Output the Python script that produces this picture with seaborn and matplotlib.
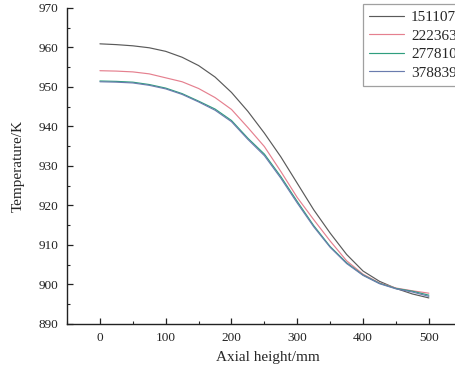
import numpy as np
import pandas as pd
import matplotlib
matplotlib.use("Agg")
import matplotlib.pyplot as plt
import seaborn as sns
from matplotlib.ticker import MultipleLocator

# axial height (mm)
height = [0, 25, 50, 75, 100, 125, 150, 175, 200, 225, 250,
          275, 300, 325, 350, 375, 400, 425, 450, 475, 500]

# temperatures (K) per Reynolds number
t_151107 = [960.9, 960.7, 960.4, 959.9, 959.0, 957.5, 955.4, 952.5, 948.6, 943.8, 938.3,
            932.3, 925.6, 918.9, 913.0, 907.6, 903.4, 900.8, 899.0, 897.6, 896.6]
t_222363 = [954.1, 954.0, 953.8, 953.3, 952.3, 951.3, 949.6, 947.3, 944.3, 939.7, 934.9,
            928.6, 922.0, 916.4, 911.0, 906.0, 902.6, 900.4, 899.1, 898.4, 897.8]
t_277810 = [951.5, 951.4, 951.2, 950.6, 949.7, 948.3, 946.4, 944.4, 941.5, 937.0, 933.0,
            927.3, 921.0, 914.9, 909.6, 905.5, 902.4, 900.3, 899.0, 898.3, 897.3]
t_378839 = [951.3, 951.2, 951.0, 950.4, 949.5, 948.1, 946.2, 944.1, 941.2, 936.7, 932.6,
            926.9, 920.6, 914.6, 909.4, 905.3, 902.3, 900.2, 898.9, 898.1, 897.0]

labels = ["151107", "222363", "277810", "378839"]
colors = ["#5a5a5a", "#e5808f", "#2f9e7e", "#6a7cae"]

df = pd.concat([
    pd.DataFrame({"h": height, "T": t, "Re": lab})
    for t, lab in zip([t_151107, t_222363, t_277810, t_378839], labels)
])

sns.set_style("ticks")
plt.rcParams["font.family"] = ["Liberation Serif", "DejaVu Serif"]

fig = plt.figure(figsize=(4.56, 3.75), dpi=100)
ax = fig.add_axes([0.147, 0.136, 0.88, 0.843])

sns.lineplot(data=df, x="h", y="T", hue="Re", palette=colors,
             linewidth=0.85, ax=ax, sort=False)

ax.set_xlim(-50, 560)
ax.set_ylim(890, 970)
ax.xaxis.set_major_locator(MultipleLocator(100))
ax.xaxis.set_minor_locator(MultipleLocator(50))
ax.yaxis.set_major_locator(MultipleLocator(10))
ax.yaxis.set_minor_locator(MultipleLocator(5))
ax.tick_params(which="major", direction="in", length=4, width=0.9,
               labelsize=9.5, colors="#222222", pad=6)
ax.tick_params(which="minor", direction="in", length=2.5, width=0.8)
for s in ["top", "right"]:
    ax.spines[s].set_visible(False)
for s in ["left", "bottom"]:
    ax.spines[s].set_linewidth(1.0)
    ax.spines[s].set_color("#222222")

ax.set_xlabel("Axial height/mm", fontsize=11, labelpad=5)
ax.set_ylabel("Temperature/K", fontsize=11, labelpad=10)

leg = ax.legend(loc="upper left", bbox_to_anchor=(0.796, 0.989),
                bbox_transform=fig.transFigure, fontsize=11,
                frameon=True, fancybox=False, handlelength=2.3,
                labelspacing=0.32, borderpad=0.4, handletextpad=0.45,
                borderaxespad=0)
leg.get_frame().set_edgecolor("#888888")
leg.get_frame().set_linewidth(0.9)
leg.set_title(None)

plt.savefig("out.png", dpi=100)
